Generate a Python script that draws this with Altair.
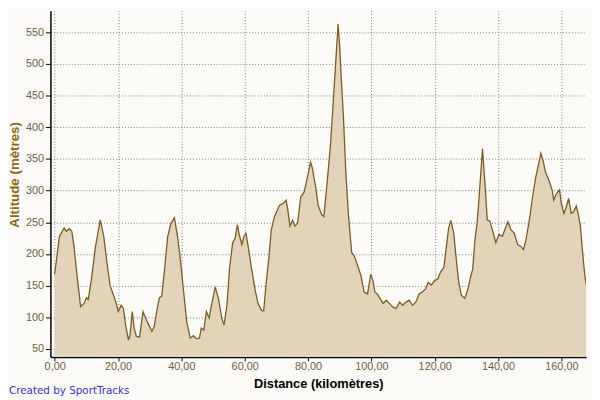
import altair as alt
import pandas as pd

km = [0, 1.5, 3, 3.7, 4.6, 5.4, 6.1, 7.2, 8.2, 9.3, 10, 10.6, 11.6, 12.9, 14.4, 15.5,
      16.5, 17.5, 18.6, 19.6, 20.1, 21, 21.7, 22.4, 23.3, 23.8, 24.5, 25.1, 25.8, 26.8,
      27.9, 28.9, 30, 30.7, 31.4, 32.6, 33.1, 33.8, 34.7, 35.7, 36.7, 37.8, 38.8, 39.8,
      40.6, 41.7, 42.8, 43.8, 44.8, 45.7, 46.3, 47.1, 47.9, 48.8, 49.7, 50.7, 51.7, 52.8,
      53.5, 54.4, 55.2, 56.2, 57, 57.7, 58.3, 59.1, 59.8, 60.4, 61.1, 62.2, 63.2, 64.2,
      65.3, 66, 66.8, 67.7, 68.4, 69.4, 71, 72.2, 73.1, 73.6, 74.3, 75.1, 75.9, 76.7,
      77.7, 78.8, 79.8, 80.8, 81.3, 82.4, 83.2, 84.3, 85, 86, 87.1, 88.1, 88.8, 89.5,
      90, 90.5, 91.2, 91.9, 92.8, 93.8, 94.6, 95.7, 96.7, 97.7, 98.8, 99.8, 100.5, 101.1,
      101.9, 102.6, 103.7, 104.7, 105.7, 106.8, 107.8, 108.9, 109.9, 110.9, 111.9, 113,
      114, 115.1, 116.1, 117.1, 117.9, 118.9, 120, 121, 121.8, 122.9, 123.7, 124.4, 125.1,
      126, 126.8, 127.6, 128.4, 129.5, 130.5, 131.4, 132, 132.7, 133.3, 133.8, 134.3,
      135.1, 135.8, 136.6, 137.4, 138.2, 139.3, 140.3, 141.4, 142.1, 143.1, 144.1, 145.1,
      146.2, 147.2, 148, 148.8, 149.9, 150.9, 151.9, 152.8, 153.5, 154.2, 155, 156.1,
      157.1, 157.6, 158.4, 159.4, 160, 160.8, 161.6, 162.3, 163.1, 163.9, 164.7, 165.3,
      166, 166.8, 167.4, 167.9]

altitude = [168, 228, 241, 236, 240, 236, 212, 160, 117, 122, 131, 128, 160, 212, 254, 228,
            187, 150, 135, 119, 109, 119, 114, 88, 64, 72, 109, 83, 70, 69,
            109, 97, 85, 78, 85, 120, 131, 133, 176, 228, 248, 257, 228, 187,
            146, 93, 67, 71, 66, 67, 83, 80, 109, 99, 124, 148, 130, 98,
            88, 119, 176, 218, 225, 246, 230, 215, 228, 233, 212, 176, 146, 122,
            111, 110, 155, 197, 238, 259, 277, 280, 285, 270, 244, 253, 244, 249,
            290, 298, 321, 345, 337, 306, 277, 262, 259, 311, 373, 451, 508, 563,
            529, 477, 415, 332, 259, 202, 197, 181, 166, 140, 137, 168, 158, 140,
            137, 131, 122, 127, 122, 116, 114, 124, 119, 124, 127, 119,
            124, 137, 140, 145, 155, 151, 158, 161, 171, 179, 212, 241, 253,
            233, 192, 155, 135, 130, 145, 165, 176, 222, 245, 275, 310,
            366, 316, 254, 252, 238, 218, 231, 228, 238, 251, 238, 233,
            215, 212, 207, 222, 254, 290, 321, 342, 359, 348, 329, 316,
            301, 285, 295, 301, 280, 264, 275, 288, 264, 267, 276, 264,
            244, 197, 166, 150]

x_ticks = [0, 20, 40, 60, 80, 100, 120, 140, 160]
y_ticks = [50, 100, 150, 200, 250, 300, 350, 400, 450, 500, 550]

df = pd.DataFrame({"km": km, "alt": altitude})

FONT = "Liberation Sans"
LABEL_COLOR = "#6F5F42"

x_enc = alt.X(
    "km:Q",
    scale=alt.Scale(domain=[-1.34, 167.8], nice=False, zero=False),
    axis=alt.Axis(
        values=x_ticks,
        labelExpr="replace(format(datum.value, '.2f'), '.', ',')",
        title="Distance (kilomètres)",
        titleFont=FONT, titleFontSize=13, titleFontWeight="bold", titleColor="#000000",
        titleBaseline="alphabetic", titleY=31.5,
        labelFont=FONT, labelFontSize=11, labelColor=LABEL_COLOR,
        labelPadding=0, labelBaseline="top",
        tickSize=4, tickColor="#000000",
        domainColor="#000000", domainWidth=1.5,
        grid=True, gridDash=[1, 2], gridColor="#7A7A7A", gridWidth=1,
        labelFlush=False, labelOverlap=False,
    ),
)
y_enc = alt.Y(
    "alt:Q",
    scale=alt.Scale(domain=[37.5, 584.3], nice=False, zero=False),
    axis=alt.Axis(
        values=y_ticks,
        format="d",
        title="Altitude (mètres)",
        titleFont=FONT, titleFontSize=13.5, titleFontWeight="bold", titleColor="#8B6914",
        titleBaseline="alphabetic", titleAlign="center", titleX=-32, titleY=166,
        labelFont=FONT, labelFontSize=11, labelColor=LABEL_COLOR, labelPadding=2,
        tickSize=5, tickColor="#000000",
        domainColor="#000000", domainWidth=1.5,
        grid=True, gridDash=[1, 2], gridColor="#7A7A7A", gridWidth=1,
        labelOverlap=False, labelFlush=False,
    ),
)

base = alt.Chart(df).encode(x=x_enc, y=y_enc)
area = base.mark_area(color="#E3D3B9", opacity=1, clip=True)
line = base.mark_line(color="#7A5C22", strokeWidth=1.3, clip=True)

credit = alt.Chart(pd.DataFrame({"t": ["Created by SportTracks"]})).mark_text(
    align="left", baseline="alphabetic", font="DejaVu Sans", fontSize=10.5, color="#3333CC"
).encode(text="t:N", x=alt.value(-42), y=alt.value(388.5))

chart = alt.layer(area, line, credit).properties(
    width=543, height=351,
    background="#FCFBF7",
    padding={"left": 43, "top": 0, "right": 6, "bottom": 41},
    autosize=alt.AutoSizeParams(type="none"),
).configure_view(strokeWidth=0)

chart.save("out.html", embed_options={"renderer": "svg", "actions": False})
